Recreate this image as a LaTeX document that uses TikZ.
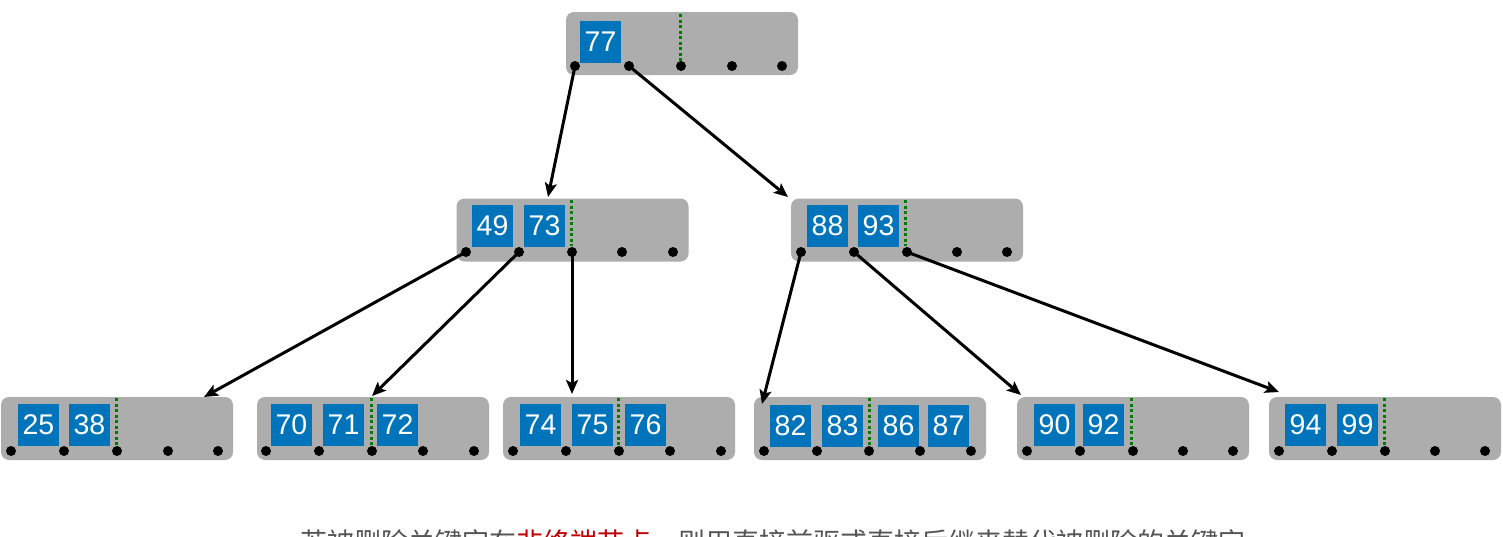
\documentclass[tikz,border=0pt]{standalone}
\usepackage{fontspec}
\setmainfont{Liberation Sans}
\newfontfamily\cjk{Noto Sans CJK SC}
\usetikzlibrary{arrows.meta}
\definecolor{boxgray}{HTML}{ADADAD}
\definecolor{keyblue}{HTML}{0074BB}
\definecolor{dotgreen}{HTML}{007A00}
\definecolor{txtgray}{HTML}{555555}
\definecolor{txtred}{HTML}{C00000}
\tikzset{
  bnode/.style={fill=boxgray, rounded corners=8pt, minimum width=232pt, minimum height=63pt, inner sep=0pt},
  key/.style={fill=keyblue, text=white, minimum width=41pt, minimum height=42pt, inner sep=0pt, font=\fontsize{28.5}{28.5}\selectfont},
  sep/.style={dotgreen, line width=3pt, dash pattern=on 3pt off 2.5pt},
  ptr/.style={fill=black, circle, minimum size=10pt, inner sep=0pt},
  link/.style={line width=3pt, -{Stealth[length=14pt, width=12pt, inset=3pt]}},
}
\begin{document}
\begin{tikzpicture}[x=1pt,y=-1pt]
\clip (0,0) rectangle (1503,536);
\fill[white] (0,0) rectangle (1503,536);

% ---------- root ----------
\node[bnode] (root) at (682,43.5) {};
\node[key] (k77) at (600.5,42) {77};
\draw[sep] (680,14) -- (680,61);
\foreach \i/\x in {1/575,2/629,3/681,4/732,5/782} \node[ptr] (r\i) at (\x,66) {};

% ---------- level 2 left ----------
\node[bnode] (nl) at (572.5,230) {};
\node[key] (k49) at (492.5,225.5) {49};
\node[key] (k73) at (544.5,225.5) {73};
\draw[sep] (571,200) -- (571,246);
\foreach \i/\x in {1/466,2/519,3/572,4/622,5/673} \node[ptr] (l\i) at (\x,252) {};

% ---------- level 2 right ----------
\node[bnode] (nr) at (907,230) {};
\node[key] (k88) at (827.5,225.5) {88};
\node[key] (k93) at (878.5,225.5) {93};
\draw[sep] (905,200) -- (905,246);
\foreach \i/\x in {1/801,2/854,3/907,4/957,5/1007} \node[ptr] (m\i) at (\x,252) {};

% ---------- leaves ----------
\node[bnode] (a) at (117,428.5) {};
\node[key] (k25) at (38.5,425) {25};
\node[key] (k38) at (89.5,425) {38};
\draw[sep] (116,398) -- (116,445);
\foreach \i/\x in {1/11,2/64,3/117,4/168,5/218} \node[ptr] (a\i) at (\x,451) {};

\node[bnode] (b) at (373,428.5) {};
\node[key] (k70) at (291.5,425) {70};
\node[key] (k71) at (343.5,425) {71};
\node[key] (k72) at (397.5,425) {72};
\draw[sep] (371,398) -- (371,445);
\foreach \i/\x in {1/266,2/319,3/372,4/423,5/474} \node[ptr] (b\i) at (\x,451) {};

\node[bnode] (c) at (619,428.5) {};
\node[key] (k74) at (540.5,425) {74};
\node[key] (k75) at (592.5,425) {75};
\node[key] (k76) at (645.5,425) {76};
\draw[sep] (618,398) -- (618,445);
\foreach \i/\x in {1/513,2/566,3/619,4/670,5/721} \node[ptr] (c\i) at (\x,451) {};

\node[bnode] (d) at (870,428.5) {};
\node[key] (k82) at (790.5,426) {82};
\node[key] (k83) at (842.5,426) {83};
\node[key] (k86) at (898.5,426) {86};
\node[key] (k87) at (948.5,426) {87};
\draw[sep] (869,398) -- (869,445);
\foreach \i/\x in {1/764,2/817,3/869,4/920,5/971} \node[ptr] (d\i) at (\x,451) {};

\node[bnode] (e) at (1133,428.5) {};
\node[key] (k90) at (1054.5,425) {90};
\node[key] (k92) at (1103.5,425) {92};
\draw[sep] (1131,398) -- (1131,445);
\foreach \i/\x in {1/1027,2/1080,3/1133,4/1183,5/1233} \node[ptr] (e\i) at (\x,451) {};

\node[bnode] (f) at (1385,428.5) {};
\node[key] (k94) at (1305.5,425) {94};
\node[key] (k99) at (1357.5,425) {99};
\draw[sep] (1384,398) -- (1384,445);
\foreach \i/\x in {1/1279,2/1332,3/1385,4/1435,5/1485} \node[ptr] (f\i) at (\x,451) {};

% ---------- arrow ends ----------
\coordinate (tl) at (548,197);
\coordinate (tr) at (788,197);
\coordinate (ta) at (204,397);
\coordinate (tb) at (372,396);
\coordinate (tc) at (572,394);
\coordinate (td) at (762,404);
\coordinate (te) at (1021,395);
\coordinate (tf) at (1279,392);

\draw[link] (r1.center) -- (tl);
\draw[link] (r2.center) -- (tr);
\draw[link] (l1.center) -- (ta);
\draw[link] (l2.center) -- (tb);
\draw[link] (l3.center) -- (tc);
\draw[link] (m1.center) -- (td);
\draw[link] (m2.center) -- (te);
\draw[link] (m3.center) -- (tf);

% ---------- caption (cut at bottom, as in the reference) ----------
\node[anchor=base west, inner sep=0pt, text=txtgray, font=\cjk\fontsize{27}{27}\selectfont] (cap) at (300,552)
  {若被删除关键字在\textcolor{txtred}{非终端节点}，则用直接前驱或直接后继来替代被删除的关键字};
\end{tikzpicture}
\end{document}
